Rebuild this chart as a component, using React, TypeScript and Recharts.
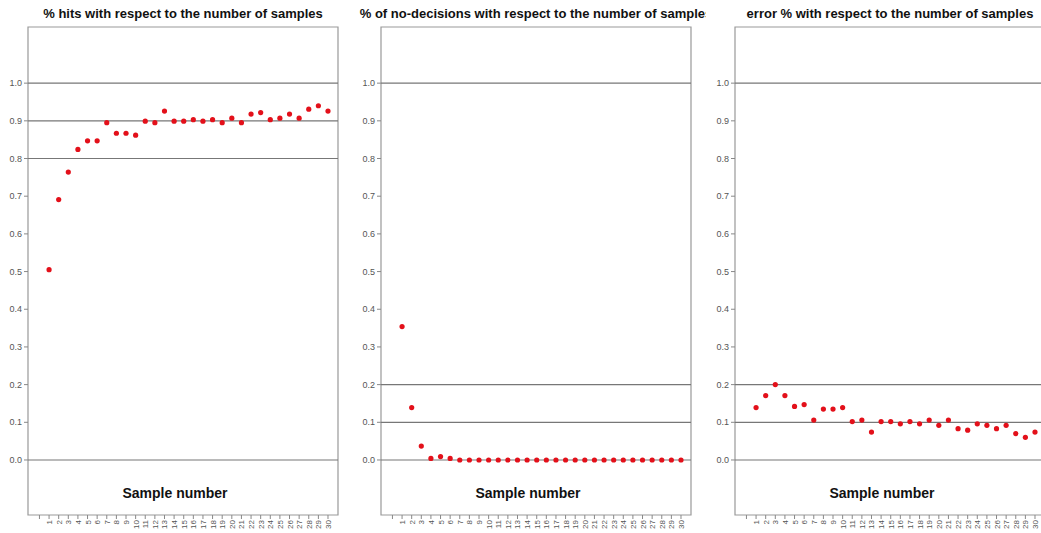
import React from "react";
import {
  ReferenceArea,
  ReferenceLine,
  Scatter,
  ScatterChart,
  XAxis,
  YAxis,
} from "recharts";

const SAMPLES = [
  1, 2, 3, 4, 5, 6, 7, 8, 9, 10, 11, 12, 13, 14, 15, 16, 17, 18, 19, 20, 21, 22, 23, 24, 25, 26,
  27, 28, 29, 30,
];

const HITS = [
  0.505, 0.691, 0.764, 0.824, 0.847, 0.847, 0.895, 0.867, 0.867, 0.862, 0.899, 0.895, 0.926, 0.899,
  0.899, 0.903, 0.899, 0.903, 0.895, 0.907, 0.895, 0.918, 0.922, 0.903, 0.907, 0.918, 0.907, 0.931,
  0.94, 0.926,
];

const NO_DECISIONS = [
  0.354, 0.139, 0.037, 0.004, 0.009, 0.004, 0, 0, 0, 0, 0, 0, 0, 0, 0, 0, 0, 0, 0, 0, 0, 0, 0, 0, 0,
  0, 0, 0, 0, 0,
];

const ERRORS = [
  0.139, 0.171, 0.2, 0.171, 0.142, 0.147, 0.106, 0.135, 0.135, 0.139, 0.102, 0.106, 0.074, 0.102,
  0.102, 0.096, 0.102, 0.096, 0.106, 0.092, 0.106, 0.083, 0.079, 0.096, 0.092, 0.083, 0.092, 0.07,
  0.06, 0.074,
];

const Y_TICKS = [0, 0.1, 0.2, 0.3, 0.4, 0.5, 0.6, 0.7, 0.8, 0.9, 1.0];
const X_TICKS = [0, ...SAMPLES];

const HITS_LINES = [0, 0.8, 0.9, 1.0];
const NO_DECISION_LINES = [0, 0.1, 0.2, 1.0];
const ERROR_LINES = [0, 0.1, 0.2, 1.0];

const TITLES = [
  "% hits with respect to the number of samples",
  "% of no-decisions with respect to the number of samples",
  "error % with respect to the number of samples",
];
const X_LABEL = "Sample number";

const X_DOMAIN: [number, number] = [-1.19, 31.04];
const Y_DOMAIN: [number, number] = [-0.146, 1.149];

const PANEL_W = 353;
const PANEL_H = 533;
const FONT = "'Liberation Sans', Arial, sans-serif";
const DOT_RED = "#e3101a";

// sample numbers run vertically under each tick, reading bottom to top
function SampleTick(props: any) {
  const { x, y, payload } = props;
  const v = payload.value;
  return (
    <g transform={`translate(${x},${y})`}>
      <text
        transform="rotate(-90)"
        textAnchor="end"
        dy={3}
        fontSize={8}
        fill="#555"
        fontFamily={FONT}
      >
        {v === 0 ? "" : String(v)}
      </text>
    </g>
  );
}

function Dot(props: any) {
  return <circle cx={props.cx} cy={props.cy} r={2.6} fill={DOT_RED} />;
}

function Panel({
  left,
  title,
  values,
  lines,
}: {
  left: number;
  title: string;
  values: number[];
  lines: number[];
}) {
  const data = SAMPLES.map((s, i) => ({ x: s, y: values[i] }));
  return (
    <div
      style={{
        position: "absolute",
        left,
        top: 0,
        width: PANEL_W,
        height: PANEL_H,
        overflow: "hidden",
      }}
    >
      <div
        style={{
          position: "absolute",
          left: 183 - 250,
          width: 500,
          top: 6,
          textAlign: "center",
          whiteSpace: "nowrap",
          fontFamily: FONT,
          fontWeight: "bold",
          fontSize: 13,
          color: "#111",
        }}
      >
        {title}
      </div>
      <ScatterChart
        width={PANEL_W}
        height={PANEL_H}
        margin={{ top: 27, right: 15, bottom: 0, left: 0 }}
      >
        <XAxis
          type="number"
          dataKey="x"
          domain={X_DOMAIN}
          ticks={X_TICKS}
          interval={0}
          allowDataOverflow
          height={18}
          axisLine={false}
          tickLine={{ stroke: "#888" }}
          tickSize={4}
          tickMargin={1}
          tick={<SampleTick />}
        />
        <YAxis
          type="number"
          dataKey="y"
          domain={Y_DOMAIN}
          ticks={Y_TICKS}
          allowDataOverflow
          width={28}
          axisLine={false}
          tickLine={{ stroke: "#888" }}
          tickSize={4}
          tickMargin={2}
          tick={{ fontSize: 9, fill: "#555", fontFamily: FONT }}
          tickFormatter={(v: number) => v.toFixed(1)}
        />
        <ReferenceArea
          x1={X_DOMAIN[0]}
          x2={X_DOMAIN[1]}
          y1={Y_DOMAIN[0]}
          y2={Y_DOMAIN[1]}
          fill="none"
          stroke="#999"
          strokeWidth={1.2}
          ifOverflow="visible"
        />
        {lines.map((v) => (
          <ReferenceLine key={v} y={v} stroke="#777" strokeWidth={1.2} />
        ))}
        <Scatter data={data} shape={<Dot />} isAnimationActive={false} />
      </ScatterChart>
      <div
        style={{
          position: "absolute",
          left: 175 - 100,
          width: 200,
          top: 485,
          textAlign: "center",
          fontFamily: FONT,
          fontWeight: "bold",
          fontSize: 14,
          color: "#111",
        }}
      >
        {X_LABEL}
      </div>
    </div>
  );
}

export default function App() {
  return (
    <div
      style={{
        position: "absolute",
        left: 0,
        top: 0,
        width: 1041,
        height: 533,
        overflow: "hidden",
        background: "#fff",
      }}
    >
      <Panel left={0} title={TITLES[0]} values={HITS} lines={HITS_LINES} />
      <Panel left={353} title={TITLES[1]} values={NO_DECISIONS} lines={NO_DECISION_LINES} />
      <Panel left={707} title={TITLES[2]} values={ERRORS} lines={ERROR_LINES} />
    </div>
  );
}
